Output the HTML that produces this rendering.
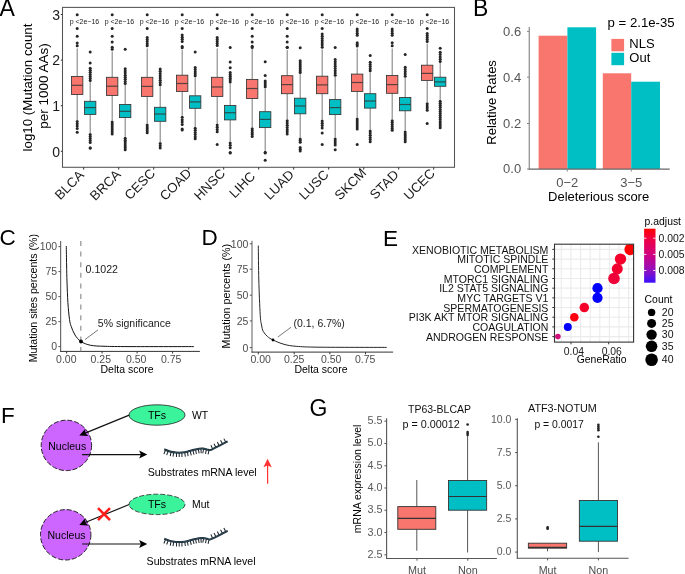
<!DOCTYPE html>
<html><head><meta charset="utf-8"><style>
html,body{margin:0;padding:0;background:#fff;width:685px;height:574px;overflow:hidden}
svg{display:block;will-change:transform}
text{font-family:"Liberation Sans", sans-serif;}
</style></head><body>
<svg width="685" height="574" viewBox="0 0 685 574">
<g id="A">
<text x="-0.5" y="15.8" font-size="23">A</text>
<rect x="62.5" y="7.4" width="392.0" height="159.9" fill="none" stroke="#555" stroke-width="1.05"/>
<line x1="60.8" y1="14.5" x2="62.5" y2="14.5" stroke="#333" stroke-width="1"/>
<text x="60.1" y="19.8" font-size="14" text-anchor="end" fill="#1a1a1a">3</text>
<line x1="60.8" y1="60.1" x2="62.5" y2="60.1" stroke="#333" stroke-width="1"/>
<text x="60.1" y="65.4" font-size="14" text-anchor="end" fill="#1a1a1a">2</text>
<line x1="60.8" y1="105.7" x2="62.5" y2="105.7" stroke="#333" stroke-width="1"/>
<text x="60.1" y="111.0" font-size="14" text-anchor="end" fill="#1a1a1a">1</text>
<line x1="60.8" y1="151.3" x2="62.5" y2="151.3" stroke="#333" stroke-width="1"/>
<text x="60.1" y="156.60000000000002" font-size="14" text-anchor="end" fill="#1a1a1a">0</text>
<text transform="translate(32.3,87.5) rotate(-90)" font-size="13.3" text-anchor="middle">log10 (Mutation count</text>
<text transform="translate(48.2,86) rotate(-90)" font-size="13.5" text-anchor="middle">per 1000 AAs)</text>
<line x1="77.2" y1="48.5" x2="77.2" y2="76.4" stroke="#8a8a8a" stroke-width="1.15"/>
<line x1="77.2" y1="94.5" x2="77.2" y2="119.9" stroke="#8a8a8a" stroke-width="1.15"/>
<rect x="71.55" y="76.4" width="11.3" height="18.10" fill="#F8766D" stroke="#333" stroke-width="0.85"/>
<line x1="71.55" y1="85.3" x2="82.85" y2="85.3" stroke="#333" stroke-width="1.2" opacity="0.8"/>
<circle cx="77.2" cy="14.8" r="1.5" fill="#262626"/>
<circle cx="77.2" cy="28.6" r="1.5" fill="#262626"/>
<circle cx="77.2" cy="36.3" r="1.5" fill="#262626"/>
<circle cx="77.2" cy="43.00" r="1.5" fill="#262626"/>
<circle cx="77.2" cy="45.70" r="1.5" fill="#262626"/>
<circle cx="77.2" cy="121.40" r="1.5" fill="#262626"/>
<circle cx="77.2" cy="123.73" r="1.5" fill="#262626"/>
<circle cx="77.2" cy="126.07" r="1.5" fill="#262626"/>
<circle cx="77.2" cy="128.40" r="1.5" fill="#262626"/>
<circle cx="77.2" cy="132.2" r="1.5" fill="#262626"/>
<line x1="90.2" y1="82" x2="90.2" y2="101.3" stroke="#8a8a8a" stroke-width="1.15"/>
<line x1="90.2" y1="114.4" x2="90.2" y2="133" stroke="#8a8a8a" stroke-width="1.15"/>
<rect x="84.55" y="101.3" width="11.3" height="13.10" fill="#00BFC4" stroke="#333" stroke-width="0.85"/>
<line x1="84.55" y1="107.6" x2="95.85" y2="107.6" stroke="#333" stroke-width="1.2" opacity="0.8"/>
<circle cx="90.2" cy="52" r="1.5" fill="#262626"/>
<circle cx="90.2" cy="63.1" r="1.5" fill="#262626"/>
<circle cx="90.2" cy="68.30" r="1.5" fill="#262626"/>
<circle cx="90.2" cy="70.33" r="1.5" fill="#262626"/>
<circle cx="90.2" cy="72.37" r="1.5" fill="#262626"/>
<circle cx="90.2" cy="74.40" r="1.5" fill="#262626"/>
<circle cx="90.2" cy="76.43" r="1.5" fill="#262626"/>
<circle cx="90.2" cy="78.47" r="1.5" fill="#262626"/>
<circle cx="90.2" cy="80.50" r="1.5" fill="#262626"/>
<circle cx="90.2" cy="134.50" r="1.5" fill="#262626"/>
<circle cx="90.2" cy="136.50" r="1.5" fill="#262626"/>
<circle cx="90.2" cy="138.50" r="1.5" fill="#262626"/>
<circle cx="90.2" cy="140.50" r="1.5" fill="#262626"/>
<circle cx="90.2" cy="142.50" r="1.5" fill="#262626"/>
<circle cx="90.2" cy="148.00" r="1.5" fill="#262626"/>
<circle cx="90.2" cy="148.00" r="1.5" fill="#262626"/>
<text x="84.45" y="24.4" font-size="7.0" text-anchor="middle" fill="#222">p &lt;2e&#8722;16</text>
<line x1="83.7" y1="167.2" x2="83.7" y2="169.6" stroke="#333" stroke-width="1"/>
<text transform="translate(69.15,184.75) rotate(-45)" y="4.76" font-size="13.3" text-anchor="middle" fill="#1a1a1a">BLCA</text>
<line x1="112.2" y1="51.5" x2="112.2" y2="77.3" stroke="#8a8a8a" stroke-width="1.15"/>
<line x1="112.2" y1="95.4" x2="112.2" y2="120.5" stroke="#8a8a8a" stroke-width="1.15"/>
<rect x="106.55" y="77.3" width="11.3" height="18.10" fill="#F8766D" stroke="#333" stroke-width="0.85"/>
<line x1="106.55" y1="86.2" x2="117.85" y2="86.2" stroke="#333" stroke-width="1.2" opacity="0.8"/>
<circle cx="112.2" cy="14.8" r="1.5" fill="#262626"/>
<circle cx="112.2" cy="28.6" r="1.5" fill="#262626"/>
<circle cx="112.2" cy="36.3" r="1.5" fill="#262626"/>
<circle cx="112.2" cy="42" r="1.5" fill="#262626"/>
<circle cx="112.2" cy="47.20" r="1.5" fill="#262626"/>
<circle cx="112.2" cy="49.20" r="1.5" fill="#262626"/>
<circle cx="112.2" cy="122.00" r="1.5" fill="#262626"/>
<circle cx="112.2" cy="124.02" r="1.5" fill="#262626"/>
<circle cx="112.2" cy="126.03" r="1.5" fill="#262626"/>
<circle cx="112.2" cy="128.05" r="1.5" fill="#262626"/>
<circle cx="112.2" cy="130.07" r="1.5" fill="#262626"/>
<circle cx="112.2" cy="132.08" r="1.5" fill="#262626"/>
<circle cx="112.2" cy="134.10" r="1.5" fill="#262626"/>
<line x1="125.2" y1="85.1" x2="125.2" y2="104.5" stroke="#8a8a8a" stroke-width="1.15"/>
<line x1="125.2" y1="117.6" x2="125.2" y2="136.7" stroke="#8a8a8a" stroke-width="1.15"/>
<rect x="119.55" y="104.5" width="11.3" height="13.10" fill="#00BFC4" stroke="#333" stroke-width="0.85"/>
<line x1="119.55" y1="111.3" x2="130.85" y2="111.3" stroke="#333" stroke-width="1.2" opacity="0.8"/>
<circle cx="125.2" cy="49.3" r="1.5" fill="#262626"/>
<circle cx="125.2" cy="68.80" r="1.5" fill="#262626"/>
<circle cx="125.2" cy="70.91" r="1.5" fill="#262626"/>
<circle cx="125.2" cy="73.03" r="1.5" fill="#262626"/>
<circle cx="125.2" cy="75.14" r="1.5" fill="#262626"/>
<circle cx="125.2" cy="77.26" r="1.5" fill="#262626"/>
<circle cx="125.2" cy="79.37" r="1.5" fill="#262626"/>
<circle cx="125.2" cy="81.49" r="1.5" fill="#262626"/>
<circle cx="125.2" cy="83.60" r="1.5" fill="#262626"/>
<circle cx="125.2" cy="138.20" r="1.5" fill="#262626"/>
<circle cx="125.2" cy="140.13" r="1.5" fill="#262626"/>
<circle cx="125.2" cy="142.07" r="1.5" fill="#262626"/>
<circle cx="125.2" cy="144.00" r="1.5" fill="#262626"/>
<circle cx="125.2" cy="145.93" r="1.5" fill="#262626"/>
<circle cx="125.2" cy="147.87" r="1.5" fill="#262626"/>
<circle cx="125.2" cy="149.80" r="1.5" fill="#262626"/>
<text x="119.45" y="24.4" font-size="7.0" text-anchor="middle" fill="#222">p &lt;2e&#8722;16</text>
<line x1="118.7" y1="167.2" x2="118.7" y2="169.6" stroke="#333" stroke-width="1"/>
<text transform="translate(105.05,184.85) rotate(-45)" y="4.76" font-size="13.3" text-anchor="middle" fill="#1a1a1a">BRCA</text>
<line x1="147.2" y1="48.5" x2="147.2" y2="77.3" stroke="#8a8a8a" stroke-width="1.15"/>
<line x1="147.2" y1="96.4" x2="147.2" y2="123.4" stroke="#8a8a8a" stroke-width="1.15"/>
<rect x="141.55" y="77.3" width="11.3" height="19.10" fill="#F8766D" stroke="#333" stroke-width="0.85"/>
<line x1="141.55" y1="86.4" x2="152.85" y2="86.4" stroke="#333" stroke-width="1.2" opacity="0.8"/>
<circle cx="147.2" cy="14.8" r="1.5" fill="#262626"/>
<circle cx="147.2" cy="28.6" r="1.5" fill="#262626"/>
<circle cx="147.2" cy="37.50" r="1.5" fill="#262626"/>
<circle cx="147.2" cy="39.55" r="1.5" fill="#262626"/>
<circle cx="147.2" cy="41.60" r="1.5" fill="#262626"/>
<circle cx="147.2" cy="43.65" r="1.5" fill="#262626"/>
<circle cx="147.2" cy="45.70" r="1.5" fill="#262626"/>
<circle cx="147.2" cy="124.90" r="1.5" fill="#262626"/>
<circle cx="147.2" cy="126.88" r="1.5" fill="#262626"/>
<circle cx="147.2" cy="128.85" r="1.5" fill="#262626"/>
<circle cx="147.2" cy="130.83" r="1.5" fill="#262626"/>
<circle cx="147.2" cy="132.80" r="1.5" fill="#262626"/>
<line x1="160.2" y1="86.2" x2="160.2" y2="107.3" stroke="#8a8a8a" stroke-width="1.15"/>
<line x1="160.2" y1="121.3" x2="160.2" y2="141.9" stroke="#8a8a8a" stroke-width="1.15"/>
<rect x="154.55" y="107.3" width="11.3" height="14.00" fill="#00BFC4" stroke="#333" stroke-width="0.85"/>
<line x1="154.55" y1="114.0" x2="165.85" y2="114.0" stroke="#333" stroke-width="1.2" opacity="0.8"/>
<circle cx="160.2" cy="69.10" r="1.5" fill="#262626"/>
<circle cx="160.2" cy="71.33" r="1.5" fill="#262626"/>
<circle cx="160.2" cy="73.56" r="1.5" fill="#262626"/>
<circle cx="160.2" cy="75.79" r="1.5" fill="#262626"/>
<circle cx="160.2" cy="78.01" r="1.5" fill="#262626"/>
<circle cx="160.2" cy="80.24" r="1.5" fill="#262626"/>
<circle cx="160.2" cy="82.47" r="1.5" fill="#262626"/>
<circle cx="160.2" cy="84.70" r="1.5" fill="#262626"/>
<circle cx="160.2" cy="143.40" r="1.5" fill="#262626"/>
<circle cx="160.2" cy="145.75" r="1.5" fill="#262626"/>
<circle cx="160.2" cy="148.10" r="1.5" fill="#262626"/>
<text x="154.45" y="24.4" font-size="7.0" text-anchor="middle" fill="#222">p &lt;2e&#8722;16</text>
<line x1="153.7" y1="167.2" x2="153.7" y2="169.6" stroke="#333" stroke-width="1"/>
<text transform="translate(139.6,184.00) rotate(-45)" y="4.76" font-size="13.3" text-anchor="middle" fill="#1a1a1a">CESC</text>
<line x1="182.2" y1="50.0" x2="182.2" y2="75.2" stroke="#8a8a8a" stroke-width="1.15"/>
<line x1="182.2" y1="91.4" x2="182.2" y2="115.8" stroke="#8a8a8a" stroke-width="1.15"/>
<rect x="176.55" y="75.2" width="11.3" height="16.20" fill="#F8766D" stroke="#333" stroke-width="0.85"/>
<line x1="176.55" y1="83.5" x2="187.85" y2="83.5" stroke="#333" stroke-width="1.2" opacity="0.8"/>
<circle cx="182.2" cy="14.8" r="1.5" fill="#262626"/>
<circle cx="182.2" cy="28.4" r="1.5" fill="#262626"/>
<circle cx="182.2" cy="35.10" r="1.5" fill="#262626"/>
<circle cx="182.2" cy="37.23" r="1.5" fill="#262626"/>
<circle cx="182.2" cy="39.37" r="1.5" fill="#262626"/>
<circle cx="182.2" cy="41.50" r="1.5" fill="#262626"/>
<circle cx="182.2" cy="46.60" r="1.5" fill="#262626"/>
<circle cx="182.2" cy="47.80" r="1.5" fill="#262626"/>
<circle cx="182.2" cy="117.30" r="1.5" fill="#262626"/>
<circle cx="182.2" cy="119.70" r="1.5" fill="#262626"/>
<circle cx="182.2" cy="122.10" r="1.5" fill="#262626"/>
<circle cx="182.2" cy="124.50" r="1.5" fill="#262626"/>
<circle cx="182.2" cy="129.00" r="1.5" fill="#262626"/>
<circle cx="182.2" cy="130.00" r="1.5" fill="#262626"/>
<line x1="195.2" y1="77.3" x2="195.2" y2="95.8" stroke="#8a8a8a" stroke-width="1.15"/>
<line x1="195.2" y1="108.3" x2="195.2" y2="126.7" stroke="#8a8a8a" stroke-width="1.15"/>
<rect x="189.55" y="95.8" width="11.3" height="12.50" fill="#00BFC4" stroke="#333" stroke-width="0.85"/>
<line x1="189.55" y1="101.9" x2="200.85" y2="101.9" stroke="#333" stroke-width="1.2" opacity="0.8"/>
<circle cx="195.2" cy="52" r="1.5" fill="#262626"/>
<circle cx="195.2" cy="67.50" r="1.5" fill="#262626"/>
<circle cx="195.2" cy="69.58" r="1.5" fill="#262626"/>
<circle cx="195.2" cy="71.65" r="1.5" fill="#262626"/>
<circle cx="195.2" cy="73.72" r="1.5" fill="#262626"/>
<circle cx="195.2" cy="75.80" r="1.5" fill="#262626"/>
<circle cx="195.2" cy="128.20" r="1.5" fill="#262626"/>
<circle cx="195.2" cy="130.32" r="1.5" fill="#262626"/>
<circle cx="195.2" cy="132.44" r="1.5" fill="#262626"/>
<circle cx="195.2" cy="134.56" r="1.5" fill="#262626"/>
<circle cx="195.2" cy="136.68" r="1.5" fill="#262626"/>
<circle cx="195.2" cy="138.80" r="1.5" fill="#262626"/>
<text x="189.45" y="24.4" font-size="7.0" text-anchor="middle" fill="#222">p &lt;2e&#8722;16</text>
<line x1="188.7" y1="167.2" x2="188.7" y2="169.6" stroke="#333" stroke-width="1"/>
<text transform="translate(175.45,184.25) rotate(-45)" y="4.76" font-size="13.3" text-anchor="middle" fill="#1a1a1a">COAD</text>
<line x1="217.2" y1="48.5" x2="217.2" y2="77.3" stroke="#8a8a8a" stroke-width="1.15"/>
<line x1="217.2" y1="96.4" x2="217.2" y2="123.4" stroke="#8a8a8a" stroke-width="1.15"/>
<rect x="211.55" y="77.3" width="11.3" height="19.10" fill="#F8766D" stroke="#333" stroke-width="0.85"/>
<line x1="211.55" y1="87.0" x2="222.85" y2="87.0" stroke="#333" stroke-width="1.2" opacity="0.8"/>
<circle cx="217.2" cy="14.8" r="1.5" fill="#262626"/>
<circle cx="217.2" cy="28.6" r="1.5" fill="#262626"/>
<circle cx="217.2" cy="37.50" r="1.5" fill="#262626"/>
<circle cx="217.2" cy="39.50" r="1.5" fill="#262626"/>
<circle cx="217.2" cy="41.50" r="1.5" fill="#262626"/>
<circle cx="217.2" cy="43.50" r="1.5" fill="#262626"/>
<circle cx="217.2" cy="45.50" r="1.5" fill="#262626"/>
<circle cx="217.2" cy="124.90" r="1.5" fill="#262626"/>
<circle cx="217.2" cy="127.17" r="1.5" fill="#262626"/>
<circle cx="217.2" cy="129.43" r="1.5" fill="#262626"/>
<circle cx="217.2" cy="131.70" r="1.5" fill="#262626"/>
<circle cx="217.2" cy="144.5" r="1.5" fill="#262626"/>
<line x1="230.2" y1="83.5" x2="230.2" y2="105.5" stroke="#8a8a8a" stroke-width="1.15"/>
<line x1="230.2" y1="119.9" x2="230.2" y2="141.4" stroke="#8a8a8a" stroke-width="1.15"/>
<rect x="224.55" y="105.5" width="11.3" height="14.40" fill="#00BFC4" stroke="#333" stroke-width="0.85"/>
<line x1="224.55" y1="112.7" x2="235.85" y2="112.7" stroke="#333" stroke-width="1.2" opacity="0.8"/>
<circle cx="230.2" cy="47.6" r="1.5" fill="#262626"/>
<circle cx="230.2" cy="61.9" r="1.5" fill="#262626"/>
<circle cx="230.2" cy="67.8" r="1.5" fill="#262626"/>
<circle cx="230.2" cy="72.50" r="1.5" fill="#262626"/>
<circle cx="230.2" cy="74.40" r="1.5" fill="#262626"/>
<circle cx="230.2" cy="76.30" r="1.5" fill="#262626"/>
<circle cx="230.2" cy="78.20" r="1.5" fill="#262626"/>
<circle cx="230.2" cy="80.10" r="1.5" fill="#262626"/>
<circle cx="230.2" cy="82.00" r="1.5" fill="#262626"/>
<circle cx="230.2" cy="142.90" r="1.5" fill="#262626"/>
<circle cx="230.2" cy="145.30" r="1.5" fill="#262626"/>
<circle cx="230.2" cy="147.70" r="1.5" fill="#262626"/>
<circle cx="230.2" cy="153.00" r="1.5" fill="#262626"/>
<circle cx="230.2" cy="152.50" r="1.5" fill="#262626"/>
<text x="224.45" y="24.4" font-size="7.0" text-anchor="middle" fill="#222">p &lt;2e&#8722;16</text>
<line x1="223.7" y1="167.2" x2="223.7" y2="169.6" stroke="#333" stroke-width="1"/>
<text transform="translate(209.45,184.25) rotate(-45)" y="4.76" font-size="13.3" text-anchor="middle" fill="#1a1a1a">HNSC</text>
<line x1="252.2" y1="49.0" x2="252.2" y2="79.4" stroke="#8a8a8a" stroke-width="1.15"/>
<line x1="252.2" y1="98.5" x2="252.2" y2="127.3" stroke="#8a8a8a" stroke-width="1.15"/>
<rect x="246.55" y="79.4" width="11.3" height="19.10" fill="#F8766D" stroke="#333" stroke-width="0.85"/>
<line x1="246.55" y1="88.5" x2="257.85" y2="88.5" stroke="#333" stroke-width="1.2" opacity="0.8"/>
<circle cx="252.2" cy="14.8" r="1.5" fill="#262626"/>
<circle cx="252.2" cy="28.6" r="1.5" fill="#262626"/>
<circle cx="252.2" cy="36.3" r="1.5" fill="#262626"/>
<circle cx="252.2" cy="42" r="1.5" fill="#262626"/>
<circle cx="252.2" cy="47.40" r="1.5" fill="#262626"/>
<circle cx="252.2" cy="46.30" r="1.5" fill="#262626"/>
<circle cx="252.2" cy="128.80" r="1.5" fill="#262626"/>
<circle cx="252.2" cy="130.73" r="1.5" fill="#262626"/>
<circle cx="252.2" cy="132.65" r="1.5" fill="#262626"/>
<circle cx="252.2" cy="134.57" r="1.5" fill="#262626"/>
<circle cx="252.2" cy="136.50" r="1.5" fill="#262626"/>
<line x1="265.2" y1="88.3" x2="265.2" y2="111.7" stroke="#8a8a8a" stroke-width="1.15"/>
<line x1="265.2" y1="127.6" x2="265.2" y2="150.8" stroke="#8a8a8a" stroke-width="1.15"/>
<rect x="259.55" y="111.7" width="11.3" height="15.90" fill="#00BFC4" stroke="#333" stroke-width="0.85"/>
<line x1="259.55" y1="119.4" x2="270.85" y2="119.4" stroke="#333" stroke-width="1.2" opacity="0.8"/>
<circle cx="265.2" cy="61.7" r="1.5" fill="#262626"/>
<circle cx="265.2" cy="75.5" r="1.5" fill="#262626"/>
<circle cx="265.2" cy="80.90" r="1.5" fill="#262626"/>
<circle cx="265.2" cy="82.87" r="1.5" fill="#262626"/>
<circle cx="265.2" cy="84.83" r="1.5" fill="#262626"/>
<circle cx="265.2" cy="86.80" r="1.5" fill="#262626"/>
<circle cx="265.2" cy="152.30" r="1.5" fill="#262626"/>
<circle cx="265.2" cy="153.00" r="1.5" fill="#262626"/>
<circle cx="265.2" cy="160.2" r="1.5" fill="#262626"/>
<text x="259.45" y="24.4" font-size="7.0" text-anchor="middle" fill="#222">p &lt;2e&#8722;16</text>
<line x1="258.7" y1="167.2" x2="258.7" y2="169.6" stroke="#333" stroke-width="1"/>
<text transform="translate(242.05,184.60) rotate(-45)" y="4.76" font-size="13.3" text-anchor="middle" fill="#1a1a1a">LIHC</text>
<line x1="287.2" y1="50.0" x2="287.2" y2="75.7" stroke="#8a8a8a" stroke-width="1.15"/>
<line x1="287.2" y1="93.7" x2="287.2" y2="119.2" stroke="#8a8a8a" stroke-width="1.15"/>
<rect x="281.55" y="75.7" width="11.3" height="18.00" fill="#F8766D" stroke="#333" stroke-width="0.85"/>
<line x1="281.55" y1="84.6" x2="292.85" y2="84.6" stroke="#333" stroke-width="1.2" opacity="0.8"/>
<circle cx="287.2" cy="14.8" r="1.5" fill="#262626"/>
<circle cx="287.2" cy="28.6" r="1.5" fill="#262626"/>
<circle cx="287.2" cy="36.3" r="1.5" fill="#262626"/>
<circle cx="287.2" cy="42" r="1.5" fill="#262626"/>
<circle cx="287.2" cy="47.20" r="1.5" fill="#262626"/>
<circle cx="287.2" cy="47.50" r="1.5" fill="#262626"/>
<circle cx="287.2" cy="120.70" r="1.5" fill="#262626"/>
<circle cx="287.2" cy="122.93" r="1.5" fill="#262626"/>
<circle cx="287.2" cy="125.17" r="1.5" fill="#262626"/>
<circle cx="287.2" cy="127.40" r="1.5" fill="#262626"/>
<circle cx="287.2" cy="129.63" r="1.5" fill="#262626"/>
<circle cx="287.2" cy="131.87" r="1.5" fill="#262626"/>
<circle cx="287.2" cy="134.10" r="1.5" fill="#262626"/>
<line x1="300.2" y1="74.1" x2="300.2" y2="98.2" stroke="#8a8a8a" stroke-width="1.15"/>
<line x1="300.2" y1="113.8" x2="300.2" y2="137.4" stroke="#8a8a8a" stroke-width="1.15"/>
<rect x="294.55" y="98.2" width="11.3" height="15.60" fill="#00BFC4" stroke="#333" stroke-width="0.85"/>
<line x1="294.55" y1="106.0" x2="305.85" y2="106.0" stroke="#333" stroke-width="1.2" opacity="0.8"/>
<circle cx="300.2" cy="47.8" r="1.5" fill="#262626"/>
<circle cx="300.2" cy="60.80" r="1.5" fill="#262626"/>
<circle cx="300.2" cy="62.77" r="1.5" fill="#262626"/>
<circle cx="300.2" cy="64.73" r="1.5" fill="#262626"/>
<circle cx="300.2" cy="66.70" r="1.5" fill="#262626"/>
<circle cx="300.2" cy="68.67" r="1.5" fill="#262626"/>
<circle cx="300.2" cy="70.63" r="1.5" fill="#262626"/>
<circle cx="300.2" cy="72.60" r="1.5" fill="#262626"/>
<circle cx="300.2" cy="138.90" r="1.5" fill="#262626"/>
<circle cx="300.2" cy="140.55" r="1.5" fill="#262626"/>
<circle cx="300.2" cy="142.20" r="1.5" fill="#262626"/>
<circle cx="300.2" cy="147.60" r="1.5" fill="#262626"/>
<circle cx="300.2" cy="149.25" r="1.5" fill="#262626"/>
<circle cx="300.2" cy="150.90" r="1.5" fill="#262626"/>
<text x="294.45" y="24.4" font-size="7.0" text-anchor="middle" fill="#222">p &lt;2e&#8722;16</text>
<line x1="293.7" y1="167.2" x2="293.7" y2="169.6" stroke="#333" stroke-width="1"/>
<text transform="translate(279,184.70) rotate(-45)" y="4.76" font-size="13.3" text-anchor="middle" fill="#1a1a1a">LUAD</text>
<line x1="322.2" y1="49.5" x2="322.2" y2="76.2" stroke="#8a8a8a" stroke-width="1.15"/>
<line x1="322.2" y1="93.7" x2="322.2" y2="119.4" stroke="#8a8a8a" stroke-width="1.15"/>
<rect x="316.55" y="76.2" width="11.3" height="17.50" fill="#F8766D" stroke="#333" stroke-width="0.85"/>
<line x1="316.55" y1="84.9" x2="327.85" y2="84.9" stroke="#333" stroke-width="1.2" opacity="0.8"/>
<circle cx="322.2" cy="14.8" r="1.5" fill="#262626"/>
<circle cx="322.2" cy="28.6" r="1.5" fill="#262626"/>
<circle cx="322.2" cy="34.10" r="1.5" fill="#262626"/>
<circle cx="322.2" cy="36.30" r="1.5" fill="#262626"/>
<circle cx="322.2" cy="38.50" r="1.5" fill="#262626"/>
<circle cx="322.2" cy="40.70" r="1.5" fill="#262626"/>
<circle cx="322.2" cy="42.90" r="1.5" fill="#262626"/>
<circle cx="322.2" cy="45.10" r="1.5" fill="#262626"/>
<circle cx="322.2" cy="47.30" r="1.5" fill="#262626"/>
<circle cx="322.2" cy="120.90" r="1.5" fill="#262626"/>
<circle cx="322.2" cy="123.23" r="1.5" fill="#262626"/>
<circle cx="322.2" cy="125.57" r="1.5" fill="#262626"/>
<circle cx="322.2" cy="127.90" r="1.5" fill="#262626"/>
<circle cx="322.2" cy="133" r="1.5" fill="#262626"/>
<circle cx="322.2" cy="144.5" r="1.5" fill="#262626"/>
<line x1="335.2" y1="76.7" x2="335.2" y2="99.6" stroke="#8a8a8a" stroke-width="1.15"/>
<line x1="335.2" y1="114.6" x2="335.2" y2="137.4" stroke="#8a8a8a" stroke-width="1.15"/>
<rect x="329.55" y="99.6" width="11.3" height="15.00" fill="#00BFC4" stroke="#333" stroke-width="0.85"/>
<line x1="329.55" y1="107.6" x2="340.85" y2="107.6" stroke="#333" stroke-width="1.2" opacity="0.8"/>
<circle cx="335.2" cy="47.6" r="1.5" fill="#262626"/>
<circle cx="335.2" cy="59.50" r="1.5" fill="#262626"/>
<circle cx="335.2" cy="61.74" r="1.5" fill="#262626"/>
<circle cx="335.2" cy="63.99" r="1.5" fill="#262626"/>
<circle cx="335.2" cy="66.23" r="1.5" fill="#262626"/>
<circle cx="335.2" cy="68.47" r="1.5" fill="#262626"/>
<circle cx="335.2" cy="70.71" r="1.5" fill="#262626"/>
<circle cx="335.2" cy="72.96" r="1.5" fill="#262626"/>
<circle cx="335.2" cy="75.20" r="1.5" fill="#262626"/>
<circle cx="335.2" cy="138.90" r="1.5" fill="#262626"/>
<circle cx="335.2" cy="140.97" r="1.5" fill="#262626"/>
<circle cx="335.2" cy="143.03" r="1.5" fill="#262626"/>
<circle cx="335.2" cy="145.10" r="1.5" fill="#262626"/>
<circle cx="335.2" cy="149.8" r="1.5" fill="#262626"/>
<text x="329.45" y="24.4" font-size="7.0" text-anchor="middle" fill="#222">p &lt;2e&#8722;16</text>
<line x1="328.7" y1="167.2" x2="328.7" y2="169.6" stroke="#333" stroke-width="1"/>
<text transform="translate(313.7,184.70) rotate(-45)" y="4.76" font-size="13.3" text-anchor="middle" fill="#1a1a1a">LUSC</text>
<line x1="357.2" y1="48.5" x2="357.2" y2="74.1" stroke="#8a8a8a" stroke-width="1.15"/>
<line x1="357.2" y1="91.4" x2="357.2" y2="117.5" stroke="#8a8a8a" stroke-width="1.15"/>
<rect x="351.55" y="74.1" width="11.3" height="17.30" fill="#F8766D" stroke="#333" stroke-width="0.85"/>
<line x1="351.55" y1="82.5" x2="362.85" y2="82.5" stroke="#333" stroke-width="1.2" opacity="0.8"/>
<circle cx="357.2" cy="14.8" r="1.5" fill="#262626"/>
<circle cx="357.2" cy="28.90" r="1.5" fill="#262626"/>
<circle cx="357.2" cy="31.03" r="1.5" fill="#262626"/>
<circle cx="357.2" cy="33.17" r="1.5" fill="#262626"/>
<circle cx="357.2" cy="35.30" r="1.5" fill="#262626"/>
<circle cx="357.2" cy="42.80" r="1.5" fill="#262626"/>
<circle cx="357.2" cy="44.45" r="1.5" fill="#262626"/>
<circle cx="357.2" cy="46.10" r="1.5" fill="#262626"/>
<circle cx="357.2" cy="119.00" r="1.5" fill="#262626"/>
<circle cx="357.2" cy="120.98" r="1.5" fill="#262626"/>
<circle cx="357.2" cy="122.96" r="1.5" fill="#262626"/>
<circle cx="357.2" cy="124.94" r="1.5" fill="#262626"/>
<circle cx="357.2" cy="126.92" r="1.5" fill="#262626"/>
<circle cx="357.2" cy="128.90" r="1.5" fill="#262626"/>
<circle cx="357.2" cy="144.5" r="1.5" fill="#262626"/>
<line x1="370.2" y1="72.3" x2="370.2" y2="93.7" stroke="#8a8a8a" stroke-width="1.15"/>
<line x1="370.2" y1="108.1" x2="370.2" y2="129.4" stroke="#8a8a8a" stroke-width="1.15"/>
<rect x="364.55" y="93.7" width="11.3" height="14.40" fill="#00BFC4" stroke="#333" stroke-width="0.85"/>
<line x1="364.55" y1="101.0" x2="375.85" y2="101.0" stroke="#333" stroke-width="1.2" opacity="0.8"/>
<circle cx="370.2" cy="55.6" r="1.5" fill="#262626"/>
<circle cx="370.2" cy="62.30" r="1.5" fill="#262626"/>
<circle cx="370.2" cy="64.42" r="1.5" fill="#262626"/>
<circle cx="370.2" cy="66.55" r="1.5" fill="#262626"/>
<circle cx="370.2" cy="68.67" r="1.5" fill="#262626"/>
<circle cx="370.2" cy="70.80" r="1.5" fill="#262626"/>
<circle cx="370.2" cy="130.90" r="1.5" fill="#262626"/>
<circle cx="370.2" cy="133.08" r="1.5" fill="#262626"/>
<circle cx="370.2" cy="135.26" r="1.5" fill="#262626"/>
<circle cx="370.2" cy="137.44" r="1.5" fill="#262626"/>
<circle cx="370.2" cy="139.62" r="1.5" fill="#262626"/>
<circle cx="370.2" cy="141.80" r="1.5" fill="#262626"/>
<text x="364.45" y="24.4" font-size="7.0" text-anchor="middle" fill="#222">p &lt;2e&#8722;16</text>
<line x1="363.7" y1="167.2" x2="363.7" y2="169.6" stroke="#333" stroke-width="1"/>
<text transform="translate(350.2,183.90) rotate(-45)" y="4.76" font-size="13.3" text-anchor="middle" fill="#1a1a1a">SKCM</text>
<line x1="392.2" y1="48.5" x2="392.2" y2="75.5" stroke="#8a8a8a" stroke-width="1.15"/>
<line x1="392.2" y1="93.3" x2="392.2" y2="119.2" stroke="#8a8a8a" stroke-width="1.15"/>
<rect x="386.55" y="75.5" width="11.3" height="17.80" fill="#F8766D" stroke="#333" stroke-width="0.85"/>
<line x1="386.55" y1="84.6" x2="397.85" y2="84.6" stroke="#333" stroke-width="1.2" opacity="0.8"/>
<circle cx="392.2" cy="14.8" r="1.5" fill="#262626"/>
<circle cx="392.2" cy="28.90" r="1.5" fill="#262626"/>
<circle cx="392.2" cy="31.03" r="1.5" fill="#262626"/>
<circle cx="392.2" cy="33.17" r="1.5" fill="#262626"/>
<circle cx="392.2" cy="35.30" r="1.5" fill="#262626"/>
<circle cx="392.2" cy="42.80" r="1.5" fill="#262626"/>
<circle cx="392.2" cy="45.70" r="1.5" fill="#262626"/>
<circle cx="392.2" cy="120.70" r="1.5" fill="#262626"/>
<circle cx="392.2" cy="122.62" r="1.5" fill="#262626"/>
<circle cx="392.2" cy="124.54" r="1.5" fill="#262626"/>
<circle cx="392.2" cy="126.46" r="1.5" fill="#262626"/>
<circle cx="392.2" cy="128.38" r="1.5" fill="#262626"/>
<circle cx="392.2" cy="130.30" r="1.5" fill="#262626"/>
<line x1="405.2" y1="77.8" x2="405.2" y2="97.5" stroke="#8a8a8a" stroke-width="1.15"/>
<line x1="405.2" y1="110.8" x2="405.2" y2="130.4" stroke="#8a8a8a" stroke-width="1.15"/>
<rect x="399.55" y="97.5" width="11.3" height="13.30" fill="#00BFC4" stroke="#333" stroke-width="0.85"/>
<line x1="399.55" y1="104.5" x2="410.85" y2="104.5" stroke="#333" stroke-width="1.2" opacity="0.8"/>
<circle cx="405.2" cy="54.6" r="1.5" fill="#262626"/>
<circle cx="405.2" cy="67.30" r="1.5" fill="#262626"/>
<circle cx="405.2" cy="69.55" r="1.5" fill="#262626"/>
<circle cx="405.2" cy="71.80" r="1.5" fill="#262626"/>
<circle cx="405.2" cy="74.05" r="1.5" fill="#262626"/>
<circle cx="405.2" cy="76.30" r="1.5" fill="#262626"/>
<circle cx="405.2" cy="131.90" r="1.5" fill="#262626"/>
<circle cx="405.2" cy="133.88" r="1.5" fill="#262626"/>
<circle cx="405.2" cy="135.86" r="1.5" fill="#262626"/>
<circle cx="405.2" cy="137.84" r="1.5" fill="#262626"/>
<circle cx="405.2" cy="139.82" r="1.5" fill="#262626"/>
<circle cx="405.2" cy="141.80" r="1.5" fill="#262626"/>
<text x="399.45" y="24.4" font-size="7.0" text-anchor="middle" fill="#222">p &lt;2e&#8722;16</text>
<line x1="398.7" y1="167.2" x2="398.7" y2="169.6" stroke="#333" stroke-width="1"/>
<text transform="translate(384.1,184.40) rotate(-45)" y="4.76" font-size="13.3" text-anchor="middle" fill="#1a1a1a">STAD</text>
<line x1="427.2" y1="43.5" x2="427.2" y2="65.2" stroke="#8a8a8a" stroke-width="1.15"/>
<line x1="427.2" y1="80.4" x2="427.2" y2="102.3" stroke="#8a8a8a" stroke-width="1.15"/>
<rect x="421.55" y="65.2" width="11.3" height="15.20" fill="#F8766D" stroke="#333" stroke-width="0.85"/>
<line x1="421.55" y1="73.4" x2="432.85" y2="73.4" stroke="#333" stroke-width="1.2" opacity="0.8"/>
<circle cx="427.2" cy="14.8" r="1.5" fill="#262626"/>
<circle cx="427.2" cy="28.6" r="1.5" fill="#262626"/>
<circle cx="427.2" cy="33.50" r="1.5" fill="#262626"/>
<circle cx="427.2" cy="35.50" r="1.5" fill="#262626"/>
<circle cx="427.2" cy="37.50" r="1.5" fill="#262626"/>
<circle cx="427.2" cy="39.50" r="1.5" fill="#262626"/>
<circle cx="427.2" cy="41.50" r="1.5" fill="#262626"/>
<circle cx="427.2" cy="103.80" r="1.5" fill="#262626"/>
<circle cx="427.2" cy="105.93" r="1.5" fill="#262626"/>
<circle cx="427.2" cy="108.07" r="1.5" fill="#262626"/>
<circle cx="427.2" cy="110.20" r="1.5" fill="#262626"/>
<circle cx="427.2" cy="123.4" r="1.5" fill="#262626"/>
<line x1="440.2" y1="63.1" x2="440.2" y2="77.2" stroke="#8a8a8a" stroke-width="1.15"/>
<line x1="440.2" y1="86.3" x2="440.2" y2="99.7" stroke="#8a8a8a" stroke-width="1.15"/>
<rect x="434.55" y="77.2" width="11.3" height="9.10" fill="#00BFC4" stroke="#333" stroke-width="0.85"/>
<line x1="434.55" y1="81.9" x2="445.85" y2="81.9" stroke="#333" stroke-width="1.2" opacity="0.8"/>
<circle cx="440.2" cy="48.2" r="1.5" fill="#262626"/>
<circle cx="440.2" cy="52.30" r="1.5" fill="#262626"/>
<circle cx="440.2" cy="54.62" r="1.5" fill="#262626"/>
<circle cx="440.2" cy="56.95" r="1.5" fill="#262626"/>
<circle cx="440.2" cy="59.27" r="1.5" fill="#262626"/>
<circle cx="440.2" cy="61.60" r="1.5" fill="#262626"/>
<circle cx="440.2" cy="101.20" r="1.5" fill="#262626"/>
<circle cx="440.2" cy="103.25" r="1.5" fill="#262626"/>
<circle cx="440.2" cy="105.29" r="1.5" fill="#262626"/>
<circle cx="440.2" cy="107.34" r="1.5" fill="#262626"/>
<circle cx="440.2" cy="109.38" r="1.5" fill="#262626"/>
<circle cx="440.2" cy="111.43" r="1.5" fill="#262626"/>
<circle cx="440.2" cy="113.48" r="1.5" fill="#262626"/>
<circle cx="440.2" cy="115.52" r="1.5" fill="#262626"/>
<circle cx="440.2" cy="117.57" r="1.5" fill="#262626"/>
<circle cx="440.2" cy="119.62" r="1.5" fill="#262626"/>
<circle cx="440.2" cy="121.66" r="1.5" fill="#262626"/>
<circle cx="440.2" cy="123.71" r="1.5" fill="#262626"/>
<circle cx="440.2" cy="125.75" r="1.5" fill="#262626"/>
<circle cx="440.2" cy="127.80" r="1.5" fill="#262626"/>
<text x="434.45" y="24.4" font-size="7.0" text-anchor="middle" fill="#222">p &lt;2e&#8722;16</text>
<line x1="433.7" y1="167.2" x2="433.7" y2="169.6" stroke="#333" stroke-width="1"/>
<text transform="translate(419.15,184.10) rotate(-45)" y="4.76" font-size="13.3" text-anchor="middle" fill="#1a1a1a">UCEC</text>
</g>
<g id="B">
<text x="473.0" y="15.8" font-size="23">B</text>
<rect x="538.6" y="35.7" width="28.80" height="133.30" fill="#F8766D"/>
<rect x="567.4" y="27.3" width="28.70" height="141.70" fill="#00BFC4"/>
<rect x="602.8" y="73.3" width="28.40" height="95.70" fill="#F8766D"/>
<rect x="631.2" y="81.7" width="28.80" height="87.30" fill="#00BFC4"/>
<line x1="529.3" y1="27" x2="529.3" y2="169.5" stroke="#9a9a9a" stroke-width="1.4"/>
<line x1="528.7" y1="169.1" x2="669.7" y2="169.1" stroke="#666" stroke-width="1.3"/>
<line x1="527" y1="31.4" x2="529.3" y2="31.4" stroke="#888" stroke-width="1"/>
<text x="521.2" y="35.699999999999996" font-size="13" text-anchor="end" fill="#555">0.6</text>
<line x1="527" y1="77.2" x2="529.3" y2="77.2" stroke="#888" stroke-width="1"/>
<text x="521.2" y="81.5" font-size="13" text-anchor="end" fill="#555">0.4</text>
<line x1="527" y1="123.5" x2="529.3" y2="123.5" stroke="#888" stroke-width="1"/>
<text x="521.2" y="127.8" font-size="13" text-anchor="end" fill="#555">0.2</text>
<line x1="527" y1="169.0" x2="529.3" y2="169.0" stroke="#888" stroke-width="1"/>
<text x="521.2" y="173.3" font-size="13" text-anchor="end" fill="#555">0.0</text>
<line x1="567.3" y1="169" x2="567.3" y2="171.5" stroke="#888" stroke-width="1"/>
<text x="567.3" y="187.2" font-size="13" text-anchor="middle" fill="#555">0&#8722;2</text>
<line x1="631.3" y1="169" x2="631.3" y2="171.5" stroke="#888" stroke-width="1"/>
<text x="631.3" y="187.2" font-size="13" text-anchor="middle" fill="#555">3&#8722;5</text>
<text x="598.6" y="200.5" font-size="13" text-anchor="middle">Deleterious score</text>
<text transform="translate(496.3,102.4) rotate(-90)" font-size="13" text-anchor="middle">Relative Rates</text>
<text x="607.6" y="27.3" font-size="13.2">p = 2.1e-35</text>
<rect x="611.4" y="38.9" width="12.7" height="12.4" fill="#F8766D"/>
<rect x="611.4" y="52.8" width="12.7" height="12.4" fill="#00BFC4"/>
<text x="629.3" y="47.7" font-size="13">NLS</text>
<text x="629.3" y="61.9" font-size="13">Out</text>
</g>
<g id="C">
<text x="-0.5" y="245.2" font-size="22.5">C</text>
<line x1="60.6" y1="241" x2="60.6" y2="351.8" stroke="#6a6a6a" stroke-width="1.2"/>
<line x1="60.1" y1="351.4" x2="199.9" y2="351.4" stroke="#333" stroke-width="1"/>
<line x1="58.4" y1="246.6" x2="60.6" y2="246.6" stroke="#555" stroke-width="1"/>
<text x="57.2" y="250.4" font-size="10.5" text-anchor="end" fill="#4d4d4d">100</text>
<line x1="58.4" y1="271.6" x2="60.6" y2="271.6" stroke="#555" stroke-width="1"/>
<text x="57.2" y="275.40000000000003" font-size="10.5" text-anchor="end" fill="#4d4d4d">75</text>
<line x1="58.4" y1="296.6" x2="60.6" y2="296.6" stroke="#555" stroke-width="1"/>
<text x="57.2" y="300.40000000000003" font-size="10.5" text-anchor="end" fill="#4d4d4d">50</text>
<line x1="58.4" y1="321.6" x2="60.6" y2="321.6" stroke="#555" stroke-width="1"/>
<text x="57.2" y="325.40000000000003" font-size="10.5" text-anchor="end" fill="#4d4d4d">25</text>
<line x1="58.4" y1="346.6" x2="60.6" y2="346.6" stroke="#555" stroke-width="1"/>
<text x="57.2" y="350.40000000000003" font-size="10.5" text-anchor="end" fill="#4d4d4d">0</text>
<line x1="66.6" y1="351.3" x2="66.6" y2="353.5" stroke="#333" stroke-width="1"/>
<text x="66.3" y="363.3" font-size="10.5" text-anchor="middle" fill="#4d4d4d">0.00</text>
<line x1="102.1" y1="351.3" x2="102.1" y2="353.5" stroke="#333" stroke-width="1"/>
<text x="100.8" y="363.3" font-size="10.5" text-anchor="middle" fill="#4d4d4d">0.25</text>
<line x1="137.1" y1="351.3" x2="137.1" y2="353.5" stroke="#333" stroke-width="1"/>
<text x="136.2" y="363.3" font-size="10.5" text-anchor="middle" fill="#4d4d4d">0.50</text>
<line x1="172.6" y1="351.3" x2="172.6" y2="353.5" stroke="#333" stroke-width="1"/>
<text x="171.1" y="363.3" font-size="10.5" text-anchor="middle" fill="#4d4d4d">0.75</text>
<text x="127.1" y="372.7" font-size="10.5" text-anchor="middle">Delta score</text>
<text transform="translate(37.4,298.2) rotate(-90)" font-size="10.6" text-anchor="middle">Mutation sites percents (%)</text>
<line x1="80.8" y1="241" x2="80.8" y2="351.3" stroke="#999" stroke-width="1.3" stroke-dasharray="5,5.6"/>
<path d="M66.30,246.00 C66.35,249.17 66.48,259.00 66.60,265.00 C66.72,271.00 66.78,275.72 67.00,282.00 C67.22,288.28 67.48,296.47 67.90,302.70 C68.32,308.93 68.95,315.45 69.50,319.40 C70.05,323.35 70.28,323.80 71.20,326.40 C72.12,329.00 73.37,332.48 75.00,335.00 C76.63,337.52 78.38,339.78 81.00,341.50 C83.62,343.22 86.70,344.50 90.70,345.30 C94.70,346.10 98.45,346.08 105.00,346.30 C111.55,346.52 115.20,346.55 130.00,346.60 C144.80,346.65 183.17,346.60 193.80,346.60" fill="none" stroke="#111" stroke-width="1"/>
<circle cx="81" cy="341.5" r="1.9" fill="#000"/>
<line x1="85" y1="339.6" x2="98" y2="329.9" stroke="#555" stroke-width="0.8"/>
<text x="85.6" y="272.8" font-size="10.6" fill="#1a1a1a">0.1022</text>
<text x="97.8" y="327.2" font-size="10.5" fill="#1a1a1a">5% significance</text>
</g>
<g id="D">
<text x="201.6" y="244.9" font-size="22.5">D</text>
<line x1="252.0" y1="240.8" x2="252.0" y2="352.6" stroke="#777" stroke-width="1.2"/>
<line x1="251.5" y1="352.1" x2="393.1" y2="352.1" stroke="#333" stroke-width="1"/>
<line x1="249.8" y1="243.8" x2="252" y2="243.8" stroke="#555" stroke-width="1"/>
<text x="248.4" y="247.70000000000002" font-size="10.5" text-anchor="end" fill="#4d4d4d">100</text>
<line x1="249.8" y1="269.2" x2="252" y2="269.2" stroke="#555" stroke-width="1"/>
<text x="248.4" y="273.09999999999997" font-size="10.5" text-anchor="end" fill="#4d4d4d">75</text>
<line x1="249.8" y1="295.2" x2="252" y2="295.2" stroke="#555" stroke-width="1"/>
<text x="248.4" y="299.09999999999997" font-size="10.5" text-anchor="end" fill="#4d4d4d">50</text>
<line x1="249.8" y1="320.9" x2="252" y2="320.9" stroke="#555" stroke-width="1"/>
<text x="248.4" y="324.79999999999995" font-size="10.5" text-anchor="end" fill="#4d4d4d">25</text>
<line x1="249.8" y1="347.6" x2="252" y2="347.6" stroke="#555" stroke-width="1"/>
<text x="248.4" y="351.5" font-size="10.5" text-anchor="end" fill="#4d4d4d">0</text>
<line x1="258.3" y1="352.1" x2="258.3" y2="354.3" stroke="#333" stroke-width="1"/>
<text x="260.7" y="363.4" font-size="10.5" text-anchor="middle" fill="#4d4d4d">0.00</text>
<line x1="294.2" y1="352.1" x2="294.2" y2="354.3" stroke="#333" stroke-width="1"/>
<text x="294.1" y="363.4" font-size="10.5" text-anchor="middle" fill="#4d4d4d">0.25</text>
<line x1="329.9" y1="352.1" x2="329.9" y2="354.3" stroke="#333" stroke-width="1"/>
<text x="331.2" y="363.4" font-size="10.5" text-anchor="middle" fill="#4d4d4d">0.50</text>
<line x1="365.5" y1="352.1" x2="365.5" y2="354.3" stroke="#333" stroke-width="1"/>
<text x="365.1" y="363.4" font-size="10.5" text-anchor="middle" fill="#4d4d4d">0.75</text>
<text x="321" y="372.6" font-size="10.5" text-anchor="middle">Delta score</text>
<text transform="translate(229.8,296.2) rotate(-90)" font-size="10.7" text-anchor="middle">Mutation percents (%)</text>
<path d="M258.30,245.60 C258.38,251.33 258.48,268.53 258.80,280.00 C259.12,291.47 259.75,306.90 260.20,314.40 C260.65,321.90 260.98,322.15 261.50,325.00 C262.02,327.85 262.30,329.58 263.30,331.50 C264.30,333.42 265.88,335.08 267.50,336.50 C269.12,337.92 270.25,338.70 273.00,340.00 C275.75,341.30 280.13,343.25 284.00,344.30 C287.87,345.35 290.20,345.82 296.20,346.30 C302.20,346.78 304.92,347.02 320.00,347.20 C335.08,347.38 375.58,347.37 386.70,347.40" fill="none" stroke="#1a1a1a" stroke-width="0.95"/>
<circle cx="273" cy="340" r="1.4" fill="#000"/>
<line x1="277.9" y1="337" x2="291.1" y2="327.2" stroke="#555" stroke-width="0.8"/>
<text x="293.5" y="327" font-size="10.5" fill="#1a1a1a">(0.1, 6.7%)</text>
</g>
<g id="E">
<text x="382.9" y="245.7" font-size="22.5">E</text>
<rect x="554.5" y="244.2" width="79.1" height="97.9" fill="#fff"/>
<line x1="561.3" y1="244.2" x2="561.3" y2="342.1" stroke="#EBEBEB" stroke-width="1.1"/>
<line x1="570.9" y1="244.2" x2="570.9" y2="342.1" stroke="#EBEBEB" stroke-width="1.1"/>
<line x1="580.6" y1="244.2" x2="580.6" y2="342.1" stroke="#EBEBEB" stroke-width="1.1"/>
<line x1="590.2" y1="244.2" x2="590.2" y2="342.1" stroke="#EBEBEB" stroke-width="1.1"/>
<line x1="599.8" y1="244.2" x2="599.8" y2="342.1" stroke="#EBEBEB" stroke-width="1.1"/>
<line x1="609.4" y1="244.2" x2="609.4" y2="342.1" stroke="#EBEBEB" stroke-width="1.1"/>
<line x1="619.0" y1="244.2" x2="619.0" y2="342.1" stroke="#EBEBEB" stroke-width="1.1"/>
<line x1="628.6" y1="244.2" x2="628.6" y2="342.1" stroke="#EBEBEB" stroke-width="1.1"/>
<line x1="554.5" y1="249.40" x2="633.6" y2="249.40" stroke="#EBEBEB" stroke-width="1.1"/>
<line x1="554.5" y1="259.09" x2="633.6" y2="259.09" stroke="#EBEBEB" stroke-width="1.1"/>
<line x1="554.5" y1="268.78" x2="633.6" y2="268.78" stroke="#EBEBEB" stroke-width="1.1"/>
<line x1="554.5" y1="278.47" x2="633.6" y2="278.47" stroke="#EBEBEB" stroke-width="1.1"/>
<line x1="554.5" y1="288.16" x2="633.6" y2="288.16" stroke="#EBEBEB" stroke-width="1.1"/>
<line x1="554.5" y1="297.85" x2="633.6" y2="297.85" stroke="#EBEBEB" stroke-width="1.1"/>
<line x1="554.5" y1="307.54" x2="633.6" y2="307.54" stroke="#EBEBEB" stroke-width="1.1"/>
<line x1="554.5" y1="317.23" x2="633.6" y2="317.23" stroke="#EBEBEB" stroke-width="1.1"/>
<line x1="554.5" y1="326.92" x2="633.6" y2="326.92" stroke="#EBEBEB" stroke-width="1.1"/>
<line x1="554.5" y1="336.61" x2="633.6" y2="336.61" stroke="#EBEBEB" stroke-width="1.1"/>
<line x1="552.3" y1="249.40" x2="554.5" y2="249.40" stroke="#333" stroke-width="1"/>
<text x="548.4" y="253.50" font-size="10.55" text-anchor="end" fill="#111">XENOBIOTIC METABOLISM</text>
<line x1="552.3" y1="259.09" x2="554.5" y2="259.09" stroke="#333" stroke-width="1"/>
<text x="548.4" y="263.19" font-size="10.55" text-anchor="end" fill="#111">MITOTIC SPINDLE</text>
<line x1="552.3" y1="268.78" x2="554.5" y2="268.78" stroke="#333" stroke-width="1"/>
<text x="548.4" y="272.88" font-size="10.55" text-anchor="end" fill="#111">COMPLEMENT</text>
<line x1="552.3" y1="278.47" x2="554.5" y2="278.47" stroke="#333" stroke-width="1"/>
<text x="548.4" y="282.57" font-size="10.55" text-anchor="end" fill="#111">MTORC1 SIGNALING</text>
<line x1="552.3" y1="288.16" x2="554.5" y2="288.16" stroke="#333" stroke-width="1"/>
<text x="548.4" y="292.26" font-size="10.55" text-anchor="end" fill="#111">IL2 STAT5 SIGNALING</text>
<line x1="552.3" y1="297.85" x2="554.5" y2="297.85" stroke="#333" stroke-width="1"/>
<text x="548.4" y="301.95" font-size="10.55" text-anchor="end" fill="#111">MYC TARGETS V1</text>
<line x1="552.3" y1="307.54" x2="554.5" y2="307.54" stroke="#333" stroke-width="1"/>
<text x="548.4" y="311.64" font-size="10.55" text-anchor="end" fill="#111">SPERMATOGENESIS</text>
<line x1="552.3" y1="317.23" x2="554.5" y2="317.23" stroke="#333" stroke-width="1"/>
<text x="548.4" y="321.33" font-size="10.55" text-anchor="end" fill="#111">PI3K AKT MTOR SIGNALING</text>
<line x1="552.3" y1="326.92" x2="554.5" y2="326.92" stroke="#333" stroke-width="1"/>
<text x="548.4" y="331.02" font-size="10.55" text-anchor="end" fill="#111">COAGULATION</text>
<line x1="552.3" y1="336.61" x2="554.5" y2="336.61" stroke="#333" stroke-width="1"/>
<text x="548.4" y="340.71" font-size="10.55" text-anchor="end" fill="#111">ANDROGEN RESPONSE</text>
<clipPath id="ec"><rect x="554.5" y="244.2" width="79.1" height="97.9"/></clipPath>
<g clip-path="url(#ec)">
<circle cx="630.2" cy="249.40" r="5.8" fill="#FF0000"/>
<circle cx="620.5" cy="259.09" r="5.7" fill="#F5002A"/>
<circle cx="617.3" cy="268.78" r="5.5" fill="#F20030"/>
<circle cx="614.0" cy="278.47" r="5.8" fill="#EE0038"/>
<circle cx="597.5" cy="288.16" r="5.1" fill="#0000FF"/>
<circle cx="597.5" cy="297.85" r="5.1" fill="#0000FF"/>
<circle cx="584.3" cy="307.54" r="4.75" fill="#F50028"/>
<circle cx="574.3" cy="317.23" r="4.3" fill="#FF0010"/>
<circle cx="567.8" cy="326.92" r="4.0" fill="#0000FF"/>
<circle cx="557.9" cy="336.61" r="2.8" fill="#D0107A"/>
</g>
<rect x="554.5" y="244.2" width="79.1" height="97.9" fill="none" stroke="#333" stroke-width="1.1"/>
<line x1="571.0" y1="342.1" x2="571.0" y2="344.3" stroke="#333" stroke-width="1"/>
<line x1="608.7" y1="342.1" x2="608.7" y2="344.3" stroke="#333" stroke-width="1"/>
<text x="573.9" y="354.7" font-size="10.4" text-anchor="middle" fill="#222">0.04</text>
<text x="611.8" y="354.7" font-size="10.4" text-anchor="middle" fill="#222">0.06</text>
<text x="601.6" y="363.2" font-size="10.4" text-anchor="middle">GeneRatio</text>
<text x="644.6" y="224.5" font-size="10.4">p.adjust</text>
<defs><linearGradient id="pg" x1="0" y1="0" x2="0" y2="1"><stop offset="0" stop-color="#FF0000"/><stop offset="0.18" stop-color="#F00040"/><stop offset="0.48" stop-color="#D00080"/><stop offset="0.78" stop-color="#9010C0"/><stop offset="1" stop-color="#3A10FF"/></linearGradient></defs>
<rect x="644.1" y="228.7" width="11.4" height="54" fill="url(#pg)"/>
<line x1="644.1" y1="238.2" x2="646.4" y2="238.2" stroke="#fff" stroke-width="0.9"/>
<line x1="653.2" y1="238.2" x2="655.5" y2="238.2" stroke="#fff" stroke-width="0.9"/>
<text x="658.6" y="241.89999999999998" font-size="10.4" fill="#111">0.002</text>
<line x1="644.1" y1="254.4" x2="646.4" y2="254.4" stroke="#fff" stroke-width="0.9"/>
<line x1="653.2" y1="254.4" x2="655.5" y2="254.4" stroke="#fff" stroke-width="0.9"/>
<text x="658.6" y="258.1" font-size="10.4" fill="#111">0.005</text>
<line x1="644.1" y1="270.5" x2="646.4" y2="270.5" stroke="#fff" stroke-width="0.9"/>
<line x1="653.2" y1="270.5" x2="655.5" y2="270.5" stroke="#fff" stroke-width="0.9"/>
<text x="658.6" y="274.2" font-size="10.4" fill="#111">0.008</text>
<text x="644.6" y="302.7" font-size="10.4">Count</text>
<circle cx="651.6" cy="312.4" r="3.7" fill="#000"/>
<text x="661.8" y="315.59999999999997" font-size="10.5" fill="#111">20</text>
<circle cx="651.6" cy="323.4" r="4.5" fill="#000"/>
<text x="661.8" y="326.59999999999997" font-size="10.5" fill="#111">25</text>
<circle cx="651.6" cy="334.6" r="5.2" fill="#000"/>
<text x="661.8" y="337.8" font-size="10.5" fill="#111">30</text>
<circle cx="651.6" cy="346.3" r="5.8" fill="#000"/>
<text x="661.8" y="349.5" font-size="10.5" fill="#111">35</text>
<circle cx="651.6" cy="359.7" r="6.3" fill="#000"/>
<text x="661.8" y="362.9" font-size="10.5" fill="#111">40</text>
</g>
<g id="F">
<text x="1.0" y="422.7" font-size="22.5">F</text>
<circle cx="66.4" cy="445.4" r="25.2" fill="#CC66FF" stroke="#111" stroke-width="0.9" stroke-dasharray="5,2"/>
<text x="67.2" y="449.6" font-size="10.5" text-anchor="middle">Nucleus</text>
<ellipse cx="157.0" cy="415" rx="28" ry="10.2" fill="#3AF39A" stroke="#222" stroke-width="0.8"/>
<text x="157.0" y="418.8" font-size="10.6" text-anchor="middle">TFs</text>
<text x="192.0" y="418.8" font-size="10.4">WT</text>
<line x1="129.2" y1="415.10" x2="83.93" y2="433.61" stroke="#111" stroke-width="1.15"/>
<path d="M79.30,435.50 L85.38,428.69 L85.22,433.08 L88.40,436.10 Z" fill="#000"/>
<line x1="82.1" y1="454.6" x2="141" y2="454.6" stroke="#111" stroke-width="1.2"/>
<path d="M147.30,454.60 L139.10,458.60 L140.90,454.60 L139.10,450.60 Z" fill="#000"/>
<path d="M165.60,449.80L163.94,454.09M168.32,450.85L166.66,455.14M171.04,451.67L170.28,456.21M173.76,452.13L173.00,456.66M176.48,452.50L176.48,457.10M179.20,452.50L179.20,457.10M181.92,452.50L181.92,457.10M184.64,452.06L185.40,456.60M187.36,451.61L188.12,456.14M190.08,450.91L191.33,455.34M192.80,450.14L194.05,454.57M195.52,449.50L196.42,454.01M198.24,448.95L199.14,453.46M200.96,448.70L201.19,453.30M203.68,448.74L202.78,453.25M206.40,449.28L205.50,453.79M209.12,449.89L208.07,454.37M212.60,449.00L210.96,445.13M215.90,447.45L214.02,443.69M219.20,445.80L217.32,442.04M222.50,444.08L220.54,440.37M225.80,442.35L223.84,438.63" stroke="#1c262e" stroke-width="1.05" fill="none"/>
<path d="M164.30,449.30 C165.25,449.67 168.05,450.97 170.00,451.50 C171.95,452.03 174.00,452.33 176.00,452.50 C178.00,452.67 180.00,452.67 182.00,452.50 C184.00,452.33 186.00,451.95 188.00,451.50 C190.00,451.05 192.17,450.25 194.00,449.80 C195.83,449.35 197.50,449.00 199.00,448.80 C200.50,448.60 201.67,448.50 203.00,448.60 C204.33,448.70 205.83,449.15 207.00,449.40 C208.17,449.65 208.83,450.27 210.00,450.10 C211.17,449.93 212.33,449.18 214.00,448.40 C215.67,447.62 217.73,446.57 220.00,445.40 C222.27,444.23 226.33,442.07 227.60,441.40" fill="none" stroke="#1c262e" stroke-width="2.0"/>
<path d="M164.30,449.30 C165.25,449.67 168.05,450.97 170.00,451.50 C171.95,452.03 174.00,452.33 176.00,452.50 C178.00,452.67 180.00,452.67 182.00,452.50 C184.00,452.33 186.00,451.95 188.00,451.50 C190.00,451.05 192.17,450.25 194.00,449.80 C195.83,449.35 197.50,449.00 199.00,448.80 C200.50,448.60 201.67,448.50 203.00,448.60 C204.33,448.70 205.83,449.15 207.00,449.40 C208.17,449.65 208.83,450.27 210.00,450.10 C211.17,449.93 212.33,449.18 214.00,448.40 C215.67,447.62 217.73,446.57 220.00,445.40 C222.27,444.23 226.33,442.07 227.60,441.40" fill="none" stroke="#3d7f99" stroke-width="0.6" opacity="0.7"/>
<text x="147.8" y="475.6" font-size="10.6">Substrates mRNA level</text>
<circle cx="65.7" cy="534.8" r="25.2" fill="#CC66FF" stroke="#111" stroke-width="0.9" stroke-dasharray="5,2"/>
<text x="66.5" y="539.0" font-size="10.5" text-anchor="middle">Nucleus</text>
<ellipse cx="157.0" cy="504.4" rx="28" ry="10.2" fill="#3AF39A" stroke="#222" stroke-width="0.8" stroke-dasharray="5,2"/>
<text x="157.0" y="508.20000000000005" font-size="10.6" text-anchor="middle">TFs</text>
<text x="192.0" y="508.20000000000005" font-size="10.4">Mut</text>
<line x1="129.2" y1="504.50" x2="83.93" y2="523.01" stroke="#111" stroke-width="1.15"/>
<path d="M79.30,524.90 L85.38,518.09 L85.22,522.48 L88.40,525.50 Z" fill="#000"/>
<line x1="82.1" y1="544.0" x2="141" y2="544.0" stroke="#111" stroke-width="1.2"/>
<path d="M147.30,544.00 L139.10,548.00 L140.90,544.00 L139.10,540.00 Z" fill="#000"/>
<path d="M165.60,539.20L163.94,543.49M168.32,540.25L166.66,544.54M171.04,541.07L170.28,545.61M173.76,541.53L173.00,546.06M176.48,541.90L176.48,546.50M179.20,541.90L179.20,546.50M181.92,541.90L181.92,546.50M184.64,541.46L185.40,546.00M187.36,541.01L188.12,545.54M190.08,540.31L191.33,544.74M192.80,539.54L194.05,543.97M195.52,538.90L196.42,543.41M198.24,538.35L199.14,542.86M200.96,538.10L201.19,542.70M203.68,538.14L202.78,542.65M206.40,538.68L205.50,543.19M209.12,539.29L208.07,543.77M212.60,538.39L210.96,534.53M215.90,536.85L214.02,533.09M219.20,535.20L217.32,531.44M222.50,533.48L220.54,529.77M225.80,531.75L223.84,528.03" stroke="#1c262e" stroke-width="1.05" fill="none"/>
<path d="M164.30,538.70 C165.25,539.07 168.05,540.37 170.00,540.90 C171.95,541.43 174.00,541.73 176.00,541.90 C178.00,542.07 180.00,542.07 182.00,541.90 C184.00,541.73 186.00,541.35 188.00,540.90 C190.00,540.45 192.17,539.65 194.00,539.20 C195.83,538.75 197.50,538.40 199.00,538.20 C200.50,538.00 201.67,537.90 203.00,538.00 C204.33,538.10 205.83,538.55 207.00,538.80 C208.17,539.05 208.83,539.67 210.00,539.50 C211.17,539.33 212.33,538.58 214.00,537.80 C215.67,537.02 217.73,535.97 220.00,534.80 C222.27,533.63 226.33,531.47 227.60,530.80" fill="none" stroke="#1c262e" stroke-width="2.0"/>
<path d="M164.30,538.70 C165.25,539.07 168.05,540.37 170.00,540.90 C171.95,541.43 174.00,541.73 176.00,541.90 C178.00,542.07 180.00,542.07 182.00,541.90 C184.00,541.73 186.00,541.35 188.00,540.90 C190.00,540.45 192.17,539.65 194.00,539.20 C195.83,538.75 197.50,538.40 199.00,538.20 C200.50,538.00 201.67,537.90 203.00,538.00 C204.33,538.10 205.83,538.55 207.00,538.80 C208.17,539.05 208.83,539.67 210.00,539.50 C211.17,539.33 212.33,538.58 214.00,537.80 C215.67,537.02 217.73,535.97 220.00,534.80 C222.27,533.63 226.33,531.47 227.60,530.80" fill="none" stroke="#3d7f99" stroke-width="0.6" opacity="0.7"/>
<text x="146.6" y="564.7" font-size="10.6">Substrates mRNA level</text>
<line x1="267.6" y1="483.7" x2="267.6" y2="464" stroke="#F33" stroke-width="1.2"/>
<path d="M267.6,458.8 L263.4,467.2 L267.6,465.5 L271.8,467.2 Z" fill="#F33"/>
<path d="M98,508.1 L110,520.1 M110,508.1 L98,520.1" stroke="#FF1E1E" stroke-width="2.6"/>
</g>
<g id="G">
<text x="309.6" y="415.8" font-size="23">G</text>
<text transform="translate(360.6,478.9) rotate(-90)" font-size="10.5" text-anchor="middle">mRNA expression level</text>
<line x1="386.6" y1="418.3" x2="386.6" y2="559" stroke="#555" stroke-width="1.1"/>
<line x1="386.1" y1="558.5" x2="496.9" y2="558.5" stroke="#555" stroke-width="1.1"/>
<line x1="384.4" y1="421.20" x2="386.6" y2="421.20" stroke="#555" stroke-width="1"/>
<text x="382.4" y="424.20" font-size="10.8" text-anchor="end" fill="#595959">5.5</text>
<line x1="384.4" y1="443.47" x2="386.6" y2="443.47" stroke="#555" stroke-width="1"/>
<text x="382.4" y="446.47" font-size="10.8" text-anchor="end" fill="#595959">5.0</text>
<line x1="384.4" y1="465.74" x2="386.6" y2="465.74" stroke="#555" stroke-width="1"/>
<text x="382.4" y="468.74" font-size="10.8" text-anchor="end" fill="#595959">4.5</text>
<line x1="384.4" y1="488.01" x2="386.6" y2="488.01" stroke="#555" stroke-width="1"/>
<text x="382.4" y="491.01" font-size="10.8" text-anchor="end" fill="#595959">4.0</text>
<line x1="384.4" y1="510.28" x2="386.6" y2="510.28" stroke="#555" stroke-width="1"/>
<text x="382.4" y="513.28" font-size="10.8" text-anchor="end" fill="#595959">3.5</text>
<line x1="384.4" y1="532.55" x2="386.6" y2="532.55" stroke="#555" stroke-width="1"/>
<text x="382.4" y="535.55" font-size="10.8" text-anchor="end" fill="#595959">3.0</text>
<line x1="384.4" y1="554.82" x2="386.6" y2="554.82" stroke="#555" stroke-width="1"/>
<text x="382.4" y="557.82" font-size="10.8" text-anchor="end" fill="#595959">2.5</text>
<line x1="416.8" y1="480.0" x2="416.8" y2="506.6" stroke="#555" stroke-width="1"/>
<line x1="416.8" y1="529.3" x2="416.8" y2="550.7" stroke="#555" stroke-width="1"/>
<rect x="397.80" y="506.6" width="38.00" height="22.70" fill="#F8766D" stroke="#333" stroke-width="0.9"/>
<line x1="397.80" y1="518.4" x2="435.80" y2="518.4" stroke="#333" stroke-width="1.2"/>
<line x1="467.6" y1="436.0" x2="467.6" y2="480.5" stroke="#555" stroke-width="1"/>
<line x1="467.6" y1="510.2" x2="467.6" y2="552.5" stroke="#555" stroke-width="1"/>
<rect x="448.55" y="480.5" width="38.10" height="29.70" fill="#00BFC4" stroke="#333" stroke-width="0.9"/>
<line x1="448.55" y1="496.5" x2="486.65" y2="496.5" stroke="#333" stroke-width="1.2"/>
<circle cx="467.6" cy="424.5" r="1.3" fill="#222"/>
<circle cx="467.6" cy="431.9" r="1.25" fill="#222"/>
<circle cx="467.6" cy="433.5" r="1.25" fill="#222"/>
<circle cx="467.6" cy="435.1" r="1.25" fill="#222"/>
<line x1="417.0" y1="558.5" x2="417.0" y2="560.7" stroke="#555" stroke-width="1"/>
<text x="417.0" y="574.2" font-size="10.8" text-anchor="middle" fill="#4d4d4d">Mut</text>
<line x1="467.8" y1="558.5" x2="467.8" y2="560.7" stroke="#555" stroke-width="1"/>
<text x="467.8" y="574.2" font-size="10.8" text-anchor="middle" fill="#4d4d4d">Non</text>
<text x="439.5" y="412.8" font-size="10.5" text-anchor="middle" fill="#111">TP63-BLCAP</text>
<text x="402.4" y="427.7" font-size="10.8" fill="#111">p = 0.00012</text>
<line x1="517.3" y1="418.3" x2="517.3" y2="558.7" stroke="#555" stroke-width="1.1"/>
<line x1="516.8" y1="558.2" x2="628.6" y2="558.2" stroke="#555" stroke-width="1.1"/>
<line x1="515.1" y1="419.40" x2="517.3" y2="419.40" stroke="#555" stroke-width="1"/>
<text x="511.4" y="422.60" font-size="10.5" text-anchor="end" fill="#595959">10.0</text>
<line x1="515.1" y1="452.57" x2="517.3" y2="452.57" stroke="#555" stroke-width="1"/>
<text x="511.4" y="455.77" font-size="10.5" text-anchor="end" fill="#595959">7.5</text>
<line x1="515.1" y1="485.74" x2="517.3" y2="485.74" stroke="#555" stroke-width="1"/>
<text x="511.4" y="488.94" font-size="10.5" text-anchor="end" fill="#595959">5.0</text>
<line x1="515.1" y1="518.91" x2="517.3" y2="518.91" stroke="#555" stroke-width="1"/>
<text x="511.4" y="522.11" font-size="10.5" text-anchor="end" fill="#595959">2.5</text>
<line x1="515.1" y1="552.08" x2="517.3" y2="552.08" stroke="#555" stroke-width="1"/>
<text x="511.4" y="555.28" font-size="10.5" text-anchor="end" fill="#595959">0.0</text>
<line x1="547.5" y1="543.2" x2="547.5" y2="543.2" stroke="#555" stroke-width="1"/>
<line x1="547.5" y1="548.2" x2="547.5" y2="551.3" stroke="#555" stroke-width="1"/>
<rect x="528.35" y="543.2" width="38.30" height="5.00" fill="#F8766D" stroke="#333" stroke-width="0.9"/>
<line x1="528.35" y1="547.3" x2="566.65" y2="547.3" stroke="#333" stroke-width="1.2"/>
<line x1="598.4" y1="442.3" x2="598.4" y2="500.5" stroke="#555" stroke-width="1"/>
<line x1="598.4" y1="541.2" x2="598.4" y2="552.1" stroke="#555" stroke-width="1"/>
<rect x="579.35" y="500.5" width="38.10" height="40.70" fill="#00BFC4" stroke="#333" stroke-width="0.9"/>
<line x1="579.35" y1="526.3" x2="617.45" y2="526.3" stroke="#333" stroke-width="1.2"/>
<line x1="547.6" y1="527.4" x2="547.6" y2="528.7" stroke="#222" stroke-width="2.7" stroke-linecap="round"/>
<circle cx="598.4" cy="424.8" r="1.3" fill="#222"/>
<circle cx="598.4" cy="426.6" r="1.3" fill="#222"/>
<circle cx="598.4" cy="428.4" r="1.3" fill="#222"/>
<circle cx="598.4" cy="430.3" r="1.3" fill="#222"/>
<circle cx="598.4" cy="436.8" r="1.3" fill="#222"/>
<line x1="547.6" y1="558.2" x2="547.6" y2="560.4" stroke="#555" stroke-width="1"/>
<text x="547.6" y="574.2" font-size="10.7" text-anchor="middle" fill="#4d4d4d">Mut</text>
<line x1="598.4" y1="558.2" x2="598.4" y2="560.4" stroke="#555" stroke-width="1"/>
<text x="598.4" y="574.2" font-size="10.7" text-anchor="middle" fill="#4d4d4d">Non</text>
<text x="562.4" y="412.3" font-size="10.8" text-anchor="middle" fill="#111">ATF3-NOTUM</text>
<text x="534.4" y="427.9" font-size="10.4" fill="#111">p = 0.0017</text>
</g>
</svg>
</body></html>
